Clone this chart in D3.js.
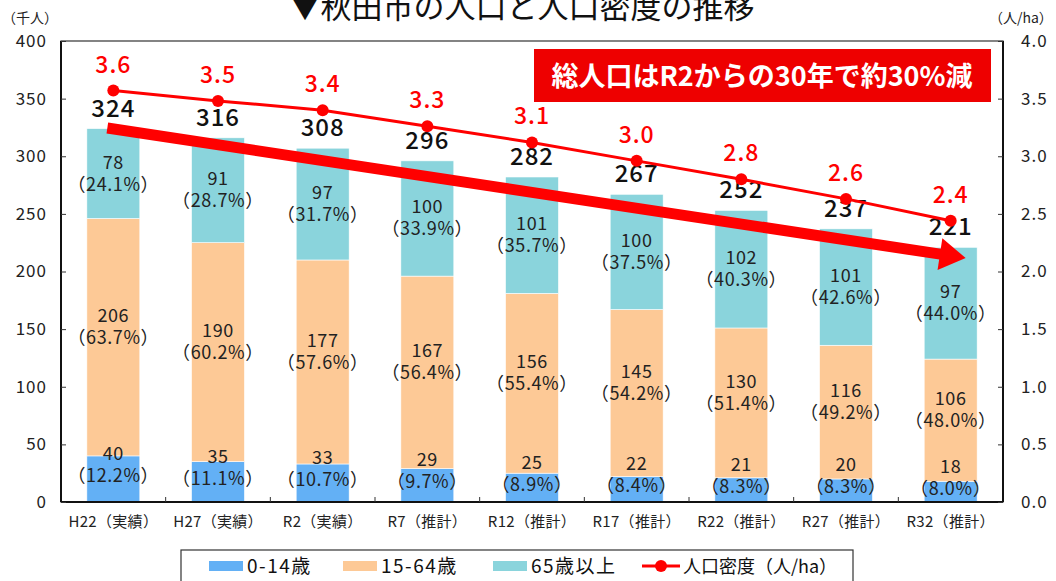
<!DOCTYPE html>
<html>
<head>
<meta charset="utf-8">
<script src="https://cdn.jsdelivr.net/npm/d3@7/dist/d3.min.js"></script>
<style>
  html, body { margin: 0; padding: 0; background: #fff; }
  svg { display: block; font-family: "Noto Sans CJK JP", "Noto Sans", sans-serif; }
</style>
</head>
<body>
<svg id="chart" width="1056" height="581"></svg>
<script>
// categories and values
const categories = ["H22（実績）", "H27（実績）", "R2（実績）", "R7（推計）", "R12（推計）", "R17（推計）", "R22（推計）", "R27（推計）", "R32（推計）"];
const age0to14  = [40, 35, 33, 29, 25, 22, 21, 20, 18];
const age15to64 = [206, 190, 177, 167, 156, 145, 130, 116, 106];
const age65plus = [78, 91, 97, 100, 101, 100, 102, 101, 97];
const pct0to14  = ["12.2", "11.1", "10.7", "9.7", "8.9", "8.4", "8.3", "8.3", "8.0"];
const pct15to64 = ["63.7", "60.2", "57.6", "56.4", "55.4", "54.2", "51.4", "49.2", "48.0"];
const pct65plus = ["24.1", "28.7", "31.7", "33.9", "35.7", "37.5", "40.3", "42.6", "44.0"];
const totals    = [324, 316, 308, 296, 282, 267, 252, 237, 221];
const density   = [3.57, 3.48, 3.40, 3.26, 3.12, 2.96, 2.80, 2.63, 2.44];
const leftTicks  = [0, 50, 100, 150, 200, 250, 300, 350, 400];
const rightTicks = [0, 0.5, 1.0, 1.5, 2.0, 2.5, 3.0, 3.5, 4.0];
// trend arrow (category + value at each end)
const arrowFrom = { cat: "H22（実績）", value: 324.5 };
const arrowTo   = { cat: "R32（推計）", value: 211.7 };

const colors = { young: "#63b0f5", working: "#fdc996", old: "#8ad4dc", red: "#ff0000" };

const svg = d3.select("#chart");
const plotL = 61, plotR = 1003, plotT = 41, plotB = 502;

const x = d3.scaleBand().domain(categories).range([plotL, plotR]).paddingInner(0.494).paddingOuter(0.247);
const y = d3.scaleLinear().domain([0, 400]).range([plotB, plotT]);
const y2 = d3.scaleLinear().domain([0, 4]).range([plotB, plotT]);

// title and units
svg.append("text").attr("x", 522).attr("y", 18).attr("text-anchor", "middle")
    .attr("font-size", 31).attr("fill", "#111").text("▼秋田市の人口と人口密度の推移");
svg.append("text").attr("x", 2).attr("y", 23).attr("font-size", 14).attr("fill", "#222").text("（千人）");
svg.append("text").attr("x", 989).attr("y", 23).attr("font-size", 14).attr("fill", "#222").text("（人/ha）");

// stacked bars
const rows = categories.map((c, i) => ({
    cat: c, young: age0to14[i], working: age15to64[i], old: age65plus[i]
}));
const keys = ["young", "working", "old"];
const stack = d3.stack().keys(keys)(rows);

svg.append("g").selectAll("g").data(stack).join("g")
    .attr("fill", d => colors[d.key])
    .selectAll("rect").data(d => d).join("rect")
    .attr("x", d => x(d.data.cat))
    .attr("width", x.bandwidth())
    .attr("y", d => y(d[1]))
    .attr("height", d => y(d[0]) - y(d[1]))
    .attr("stroke", "#fff").attr("stroke-width", 0.6);

// segment labels (value + share)
const pcts = { young: pct0to14, working: pct15to64, old: pct65plus };
const shift = { young: -14, working: -10, old: 0 };
const labelG = svg.append("g").attr("font-size", 18).attr("letter-spacing", 0.6)
    .attr("fill", "#222").attr("text-anchor", "middle");
stack.forEach(layer => {
    layer.forEach((d, i) => {
        const cx = x(d.data.cat) + x.bandwidth() / 2;
        const cy = (y(d[0]) + y(d[1])) / 2 + shift[layer.key];
        labelG.append("text").attr("x", cx).attr("y", cy - 5).text(d.data[layer.key]);
        labelG.append("text").attr("x", cx).attr("y", cy + 17).text("（" + pcts[layer.key][i] + "%）");
    });
});

// plot frame
svg.append("rect").attr("x", plotL).attr("y", plotT).attr("width", plotR - plotL).attr("height", plotB - plotT)
    .attr("fill", "none").attr("stroke", "#333").attr("stroke-width", 1.2);
svg.append("line").attr("x1", plotL).attr("x2", plotL).attr("y1", plotT).attr("y2", plotB)
    .attr("stroke", "#111").attr("stroke-width", 2);
svg.append("line").attr("x1", plotR).attr("x2", plotR).attr("y1", plotT).attr("y2", plotB)
    .attr("stroke", "#111").attr("stroke-width", 2);
svg.append("line").attr("x1", plotL).attr("x2", plotR).attr("y1", plotB).attr("y2", plotB)
    .attr("stroke", "#111").attr("stroke-width", 2);

// axes
const axL = svg.append("g").attr("transform", `translate(${plotL},0)`)
    .call(d3.axisLeft(y).tickValues(leftTicks).tickSize(-5).tickPadding(14));
const axR = svg.append("g").attr("transform", `translate(${plotR},0)`)
    .call(d3.axisRight(y2).tickValues(rightTicks).tickFormat(d3.format(".1f")).tickSize(-5).tickPadding(18));
[axL, axR].forEach(a => {
    a.select(".domain").remove();
    a.selectAll(".tick line").attr("stroke", "#333");
    a.selectAll(".tick text").attr("font-size", 17).attr("fill", "#222")
        .attr("font-family", "'Noto Sans CJK JP', sans-serif").attr("letter-spacing", 1);
});
const axB = svg.append("g").attr("transform", `translate(0,${plotB})`)
    .call(d3.axisBottom(x).tickSize(0).tickPadding(14));
axB.select(".domain").remove();
axB.selectAll(".tick text").attr("font-size", 15).attr("fill", "#222")
    .attr("font-family", "'Noto Sans CJK JP', sans-serif").attr("letter-spacing", 0.3);
// boundary ticks between categories
svg.append("g").selectAll("line").data(categories.slice(1)).join("line")
    .attr("x1", d => x(d) - x.step() * x.paddingInner() / 2)
    .attr("x2", d => x(d) - x.step() * x.paddingInner() / 2)
    .attr("y1", plotB).attr("y2", plotB - 5)
    .attr("stroke", "#333");

// totals above bars
svg.append("g").selectAll("text").data(totals).join("text")
    .attr("x", (d, i) => x(categories[i]) + x.bandwidth() / 2)
    .attr("y", (d, i) => y(age0to14[i] + age15to64[i] + age65plus[i]) - 12)
    .attr("text-anchor", "middle").attr("font-size", 24).attr("font-weight", 500)
    .attr("letter-spacing", 1).attr("fill", "#111").text(d => d);

// big trend arrow
const ax0 = x(arrowFrom.cat) + x.bandwidth() / 2 - 6, ay0 = y(arrowFrom.value);
const ax1 = x(arrowTo.cat) + x.bandwidth() / 2 + 15, ay1 = y(arrowTo.value);
const ang = Math.atan2(ay1 - ay0, ax1 - ax0);
const headLen = 26, headHalf = 16;
const bx = ax1 - headLen * Math.cos(ang), by = ay1 - headLen * Math.sin(ang);
svg.append("line").attr("x1", ax0).attr("y1", ay0).attr("x2", bx + 2 * Math.cos(ang)).attr("y2", by + 2 * Math.sin(ang))
    .attr("stroke", colors.red).attr("stroke-width", 11);
svg.append("path")
    .attr("d", `M${ax1},${ay1}L${bx - headHalf * Math.sin(ang)},${by + headHalf * Math.cos(ang)}L${bx + headHalf * Math.sin(ang)},${by - headHalf * Math.cos(ang)}Z`)
    .attr("fill", colors.red);

// density line
const line = d3.line().x((d, i) => x(categories[i]) + x.bandwidth() / 2).y(d => y2(d));
svg.append("path").datum(density).attr("d", line)
    .attr("fill", "none").attr("stroke", colors.red).attr("stroke-width", 3);
svg.append("g").selectAll("circle").data(density).join("circle")
    .attr("cx", (d, i) => x(categories[i]) + x.bandwidth() / 2)
    .attr("cy", d => y2(d)).attr("r", 6).attr("fill", colors.red);
svg.append("g").selectAll("text").data(density).join("text")
    .attr("x", (d, i) => x(categories[i]) + x.bandwidth() / 2)
    .attr("y", d => y2(d) - 18)
    .attr("text-anchor", "middle").attr("font-size", 23).attr("font-weight", 500)
    .attr("letter-spacing", 1).attr("fill", colors.red).text(d => d.toFixed(1));

// callout box
svg.append("rect").attr("x", 534).attr("y", 49).attr("width", 457).attr("height", 53).attr("fill", "#ee0000");
svg.append("text").attr("x", 762).attr("y", 86).attr("text-anchor", "middle")
    .attr("font-size", 27).attr("font-weight", 700).attr("fill", "#fff").text("総人口はR2からの30年で約30%減");

// legend
const legend = svg.append("g");
legend.append("rect").attr("x", 181).attr("y", 550).attr("width", 672).attr("height", 36)
    .attr("fill", "#fff").attr("stroke", "#333").attr("stroke-width", 1.2);
const items = [
    { label: "0-14歳", color: colors.young, sx: 209 },
    { label: "15-64歳", color: colors.working, sx: 343 },
    { label: "65歳以上", color: colors.old, sx: 493 }
];
items.forEach(it => {
    legend.append("rect").attr("x", it.sx).attr("y", 561).attr("width", 34).attr("height", 10).attr("fill", it.color);
    legend.append("text").attr("x", it.sx + 38).attr("y", 573).attr("font-size", 19)
        .attr("letter-spacing", 1.5).attr("fill", "#111").text(it.label);
});
legend.append("line").attr("x1", 642).attr("x2", 680).attr("y1", 566).attr("y2", 566)
    .attr("stroke", colors.red).attr("stroke-width", 3);
legend.append("circle").attr("cx", 661).attr("cy", 566).attr("r", 6).attr("fill", colors.red);
legend.append("text").attr("x", 683).attr("y", 573).attr("font-size", 18).attr("fill", "#111").text("人口密度（人/ha）");
</script>
</body>
</html>
